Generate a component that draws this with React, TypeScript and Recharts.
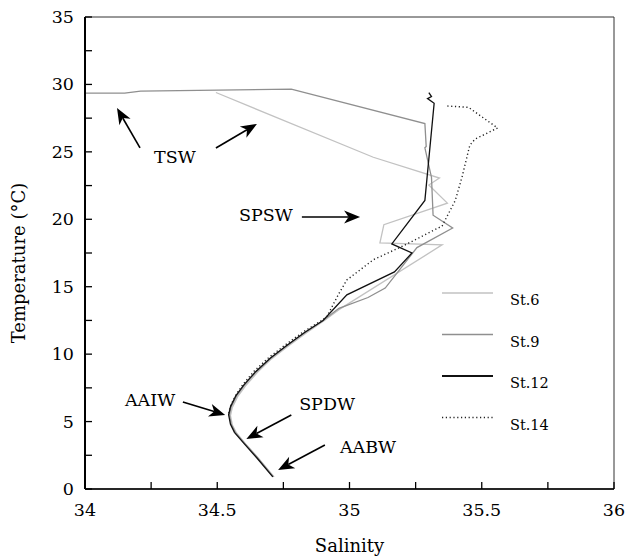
import {
  LineChart, Line, XAxis, YAxis, ReferenceArea, ReferenceLine, ReferenceDot, Legend,
} from 'recharts';

// [salinity, temperature] pairs, surface -> bottom
const st6: [number, number][] = [
  [34.495, 29.4], [35.09, 24.6], [35.34, 23.06], [35.30, 22.54], [35.37, 21.2],
  [35.13, 19.6], [35.115, 18.25], [35.35, 18.1], [34.96, 13.3], [34.905, 12.5],
  [34.835, 11.55], [34.765, 10.55], [34.705, 9.65], [34.652, 8.65], [34.607, 7.65],
  [34.577, 6.85], [34.557, 6.05], [34.55, 5.45], [34.557, 4.75], [34.573, 4.15],
  [34.607, 3.35], [34.657, 2.25], [34.715, 0.9],
];
const st9: [number, number][] = [
  [34.0, 29.36], [34.15, 29.36], [34.21, 29.5], [34.78, 29.65], [35.285, 27.1],
  [35.29, 25.4], [35.285, 25.3], [35.31, 23.1], [35.316, 20.3], [35.39, 19.35],
  [35.255, 17.9], [35.135, 14.9], [35.07, 14.2], [34.96, 13.4], [34.9, 12.5],
  [34.832, 11.6], [34.762, 10.6], [34.702, 9.7], [34.648, 8.7], [34.603, 7.7],
  [34.573, 6.9], [34.553, 6.1], [34.546, 5.5], [34.553, 4.8], [34.568, 4.2],
  [34.603, 3.4], [34.653, 2.3], [34.712, 0.9],
];
const st12: [number, number][] = [
  [35.30, 29.4], [35.31, 29.1], [35.295, 28.95], [35.32, 28.6], [35.285, 21.4],
  [35.16, 18.17], [35.236, 17.5], [35.17, 16.1], [34.99, 14.4], [34.9, 12.5],
  [34.83, 11.6], [34.76, 10.6], [34.7, 9.7], [34.645, 8.7], [34.6, 7.7],
  [34.57, 6.9], [34.55, 6.1], [34.543, 5.5], [34.55, 4.8], [34.565, 4.2],
  [34.6, 3.4], [34.65, 2.3], [34.71, 0.9],
];
const st14: [number, number][] = [
  [35.37, 28.4], [35.45, 28.3], [35.56, 26.77], [35.475, 25.95], [35.455, 25.5],
  [35.425, 23.1], [35.40, 21.4], [35.35, 19.5], [35.26, 18.6], [35.2, 18.0],
  [35.09, 17.0], [34.99, 15.5], [34.96, 14.5], [34.915, 12.8], [34.895, 12.5],
  [34.825, 11.65], [34.755, 10.65], [34.695, 9.75], [34.64, 8.75], [34.597, 7.75],
  [34.568, 6.9], [34.549, 6.1], [34.542, 5.5],
];

const xTicks = [34, 34.25, 34.5, 34.75, 35, 35.25, 35.5, 35.75, 36];
const yTicks = [0, 2.5, 5, 7.5, 10, 12.5, 15, 17.5, 20, 22.5, 25, 27.5, 30, 32.5, 35];

const seriesNames = ['St.6', 'St.9', 'St.12', 'St.14'];
const seriesData = [st6, st9, st12, st14];
const seriesColors = ['#c2c2c2', '#8f8f8f', '#111111', '#222222'];
const seriesDash = ['', '', '', '1.2 2.6'];

// water mass labels and arrows, in data units
const waterLabels: { text: string; s: number; t: number }[] = [
  { text: 'TSW', s: 34.34, t: 24.62 },
  { text: 'SPSW', s: 34.684, t: 20.32 },
  { text: 'AAIW', s: 34.246, t: 6.6 },
  { text: 'SPDW', s: 34.915, t: 6.3 },
  { text: 'AABW', s: 35.07, t: 3.11 },
];
const arrows: [number, number, number, number][] = [
  [34.208, 25.29, 34.121, 28.25],
  [34.495, 25.29, 34.65, 27.07],
  [34.82, 20.17, 35.04, 20.17],
  [34.37, 6.45, 34.53, 5.49],
  [34.78, 5.49, 34.61, 3.71],
  [34.907, 3.26, 34.73, 1.41],
];

// only serif face available in the sandbox
const FONT = "'DejaVu Serif', serif";

const toPoints = (arr: [number, number][]) => arr.map(([s, t]) => ({ s, t }));

const XTick = (props: any) => {
  const { x, y, payload } = props;
  const v = payload.value;
  const major = Math.abs(v * 2 - Math.round(v * 2)) < 1e-6;
  return (
    <g>
      <line x1={x} x2={x} y1={y} y2={y - 7} stroke="#000" strokeWidth={1.3} />
      {major && (
        <text x={x} y={y + 21} textAnchor="middle" dominantBaseline="central"
          fontSize={17.5} fill="#000" fontFamily={FONT}>{v}</text>
      )}
    </g>
  );
};

const YTick = (props: any) => {
  const { x, y, payload } = props;
  const v = payload.value;
  const major = v % 5 === 0;
  return (
    <g>
      <line x1={x} x2={x + 7} y1={y} y2={y} stroke="#000" strokeWidth={1.3} />
      {major && (
        <text x={x - 11} y={y} textAnchor="end" dominantBaseline="central"
          fontSize={17.5} fill="#000" fontFamily={FONT}>{v}</text>
      )}
    </g>
  );
};

const YLabel = (props: any) => {
  const vb = props.viewBox;
  const cx = vb.x + 18;
  const cy = vb.y + vb.height / 2 + 10;
  return (
    <text x={cx} y={cy} transform={`rotate(-90 ${cx} ${cy})`} textAnchor="middle"
      dominantBaseline="central" fontSize={18} fill="#000" fontFamily={FONT}>
      Temperature (°C)
    </text>
  );
};

const XLabel = (props: any) => {
  const vb = props.viewBox;
  return (
    <text x={vb.x + vb.width / 2} y={vb.y + 56} textAnchor="middle" dominantBaseline="central"
      fontSize={18} fill="#000" fontFamily={FONT}>
      Salinity
    </text>
  );
};

const arrowShape = (p: any) => {
  const { x1, y1, x2, y2 } = p;
  const a = Math.atan2(y2 - y1, x2 - x1);
  const c = Math.cos(a), s = Math.sin(a);
  const L = 16, W = 6.5;
  const bx = x2 - L * c, by = y2 - L * s;
  const nx = x2 - L * 0.72 * c, ny = y2 - L * 0.72 * s;
  const pts = [
    [x2, y2], [bx - W * s, by + W * c], [nx, ny], [bx + W * s, by - W * c],
  ].map((q) => q.join(',')).join(' ');
  return (
    <g>
      <line x1={x1} y1={y1} x2={nx} y2={ny} stroke="#000" strokeWidth={1.6} />
      <polygon points={pts} fill="#000" />
    </g>
  );
};

const renderLegend = () => (
  <svg width={160} height={160} style={{ display: 'block' }}>
    {seriesNames.map((name, i) => {
      const ly = 13 + i * 41.5;
      return (
        <g key={name}>
          <line x1={12} x2={63} y1={ly} y2={ly} stroke={seriesColors[i]}
            strokeWidth={i === 2 ? 2 : 1.5} strokeDasharray={seriesDash[i] || undefined} />
          <text x={80} y={ly + 7} dominantBaseline="central" fontSize={14.5}
            fill="#000" fontFamily={FONT}>{name}</text>
        </g>
      );
    })}
  </svg>
);

export default function App() {
  return (
    <div style={{ position: 'absolute', left: 0, top: 0, background: '#fff' }}>
      <LineChart width={627} height={556} margin={{ top: 17, right: 13, bottom: 0, left: 0 }}>
        <XAxis type="number" dataKey="s" domain={[34, 36]} ticks={xTicks} interval={0}
          height={67} tickSize={0} tickMargin={0} tickLine={false} tick={<XTick />}
          axisLine={{ stroke: '#000', strokeWidth: 1.6 }} allowDataOverflow label={<XLabel />} />
        <YAxis type="number" dataKey="t" domain={[0, 35]} ticks={yTicks} interval={0}
          width={85} tickSize={0} tickMargin={0} tickLine={false} tick={<YTick />}
          axisLine={{ stroke: '#000', strokeWidth: 2 }} allowDataOverflow label={<YLabel />} />
        <ReferenceArea x1={34} x2={36} y1={0} y2={35} fill="none" stroke="#333" strokeWidth={1} />
        {seriesData.map((d, i) => (
          <Line key={seriesNames[i]} data={toPoints(d)} dataKey="t" name={seriesNames[i]}
            type="linear" stroke={seriesColors[i]} strokeWidth={i === 3 ? 1.4 : 1.3}
            strokeDasharray={seriesDash[i] || undefined} dot={false} activeDot={false}
            isAnimationActive={false} />
        ))}
        {arrows.map(([sa, ta, sb, tb], i) => (
          <ReferenceLine key={`a${i}`} segment={[{ x: sa, y: ta }, { x: sb, y: tb }]}
            shape={arrowShape} ifOverflow="visible" />
        ))}
        {waterLabels.map((w) => (
          <ReferenceDot key={w.text} x={w.s} y={w.t} ifOverflow="visible"
            shape={(p: any) => (
              <text x={p.cx} y={p.cy} textAnchor="middle" dominantBaseline="central"
                fontSize={17.5} fill="#000" fontFamily={FONT}>{w.text}</text>
            )} />
        ))}
        <Legend layout="vertical" align="center" verticalAlign="middle" content={renderLegend}
          wrapperStyle={{ left: 430, top: 280, width: 160 }} />
      </LineChart>
    </div>
  );
}
